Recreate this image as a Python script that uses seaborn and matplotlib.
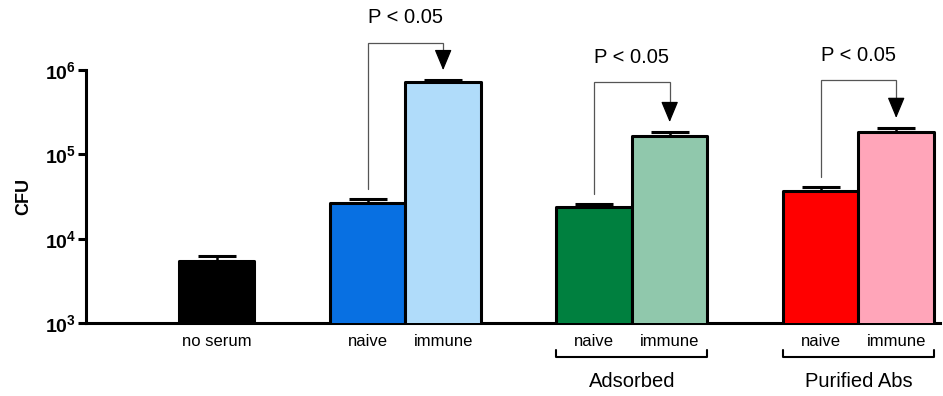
import matplotlib
matplotlib.use("Agg")
import matplotlib.pyplot as plt
import seaborn as sns
import pandas as pd
import numpy as np

sns.set_style("white")
plt.rcParams['font.family'] = ['Liberation Sans', 'DejaVu Sans']
plt.rcParams['mathtext.fontset'] = 'custom'
plt.rcParams['mathtext.rm'] = 'Liberation Sans:bold'
plt.rcParams['mathtext.bf'] = 'Liberation Sans:bold'
plt.rcParams['mathtext.it'] = 'Liberation Sans:bold'
plt.rcParams['text.color'] = 'black'
plt.rcParams['axes.labelcolor'] = 'black'
plt.rcParams['xtick.color'] = 'black'
plt.rcParams['ytick.color'] = 'black'

# ---- data ----
bar_ids = ["no serum", "naive A", "immune A", "naive B", "immune B", "naive C", "immune C"]
bar_labels = ["no serum", "naive", "immune", "naive", "immune", "naive", "immune"]
cfu_mean = [5430, 26500, 722000, 23800, 165000, 36800, 184000]
cfu_upper = [6240, 29600, 760000, 25800, 184000, 41000, 206000]
group_names = ["Adsorbed", "Purified Abs"]
p_text = ["P < 0.05", "P < 0.05", "P < 0.05"]
bracket_levels = [2.1e6, 7.2e5, 7.6e5]

# ---- layout / style ----
positions = [1, 3, 4, 6, 7, 9, 10]
colors = ["#000000", "#0870e2", "#b0dcfa", "#00803f", "#90c8ac", "#ff0000", "#ffa5b9"]
comparisons = [(1, 2), (3, 4), (5, 6)]
group_members = [(3, 4), (5, 6)]

df = pd.DataFrame({"pos": positions, "cfu": cfu_mean, "id": bar_ids})

fig = plt.figure(figsize=(9.43, 3.96), dpi=100)
ax = fig.add_axes([86/943, (396-323)/396, (940-86)/943, (323-70)/396])

sns.barplot(data=df, x="pos", y="cfu", hue="id", palette=colors, native_scale=True,
            dodge=False, width=1.0, legend=False, edgecolor="black", linewidth=2.2,
            saturation=1, errorbar=None, ax=ax, zorder=3)
for p in ax.patches:
    p.set_joinstyle("round")

ax.set_yscale("log")
ax.set_ylim(1e3, 1e6)
ax.set_xlim(-0.73, 10.58)

mean = np.array(cfu_mean)
upper = np.array(cfu_upper)
ax.errorbar(positions, mean, yerr=[np.zeros_like(mean), upper - mean], fmt="none",
            ecolor="black", elinewidth=1.8, capsize=14, capthick=2.2, zorder=2)

# axes styling
for s in ["top", "right"]:
    ax.spines[s].set_visible(False)
for s in ["left", "bottom"]:
    ax.spines[s].set_linewidth(2.2)
    ax.spines[s].set_color("black")
ax.set_yticks([1e3, 1e4, 1e5, 1e6])
ax.set_yticklabels([r"$\mathbf{10^{3}}$", r"$\mathbf{10^{4}}$", r"$\mathbf{10^{5}}$", r"$\mathbf{10^{6}}$"],
                   fontsize=14)
ax.yaxis.set_minor_locator(matplotlib.ticker.NullLocator())
ax.tick_params(axis="y", which="major", direction="out", length=6, width=2.2, pad=1, left=True)
ax.set_xticks(positions)
ax.set_xticklabels(bar_labels, fontsize=12)
ax.tick_params(axis="x", length=0, pad=8)
ax.set_xlabel("")
ax.set_ylabel("CFU", fontsize=13, fontweight="bold", labelpad=9)

# significance brackets
line_col = "#555555"
for (i, j), lvl, txt in zip(comparisons, bracket_levels, p_text):
    xi, xj = positions[i], positions[j]
    low = upper[i] * 1.31
    tip = upper[j] * 1.31
    ax.plot([xi, xi, xj, xj], [low, lvl, lvl, tip * 1.6], color=line_col, lw=0.9,
            clip_on=False, zorder=4, solid_joinstyle="miter")
    ax.annotate("", xy=(xj, tip), xytext=(xj, tip * 1.65),
                arrowprops=dict(arrowstyle="-|>,head_length=0.72,head_width=0.3",
                                color="black", lw=0.9, mutation_scale=18,
                                shrinkA=0, shrinkB=0),
                annotation_clip=False, zorder=5)
    ax.annotate(txt, xy=((xi + xj) / 2, lvl), xytext=(0, 18), textcoords="offset points",
                ha="center", va="center", fontsize=14.5, annotation_clip=False)

# group brackets below axis
trans = ax.get_xaxis_transform()
for (i, j), name in zip(group_members, group_names):
    x0 = positions[i] - 0.5
    x1 = positions[j] + 0.5
    ax.plot([x0, x0, x1, x1], [-0.107, -0.134, -0.134, -0.107], transform=trans,
            color="black", lw=1.5, clip_on=False)
    ax.text((x0 + x1) / 2, -0.233, name, transform=trans, ha="center", va="center",
            fontsize=14.5)

fig.savefig("out.png", dpi=100)
